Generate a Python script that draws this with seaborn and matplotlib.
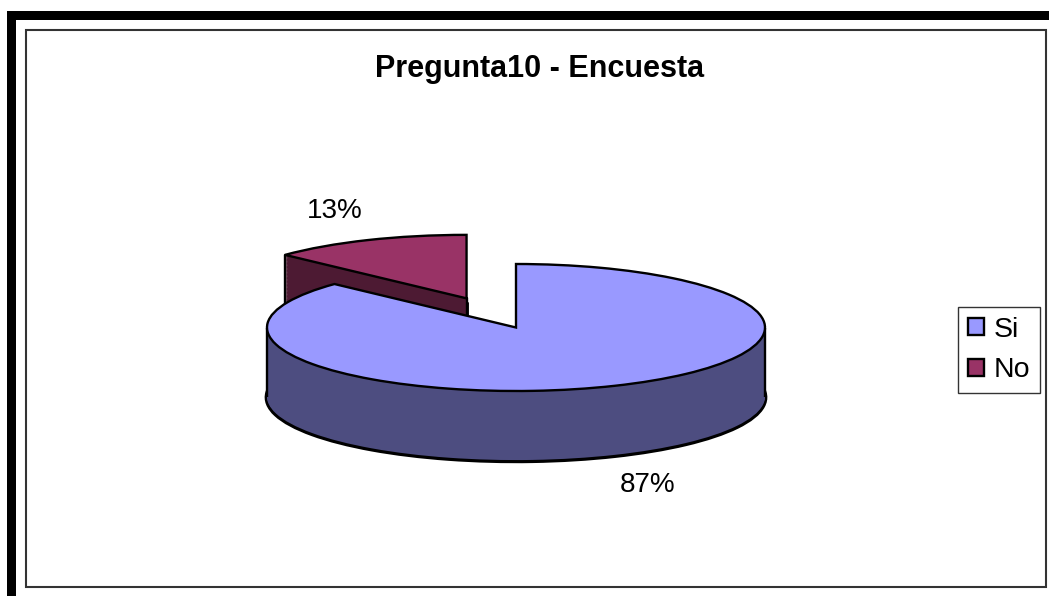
import numpy as np
import matplotlib
matplotlib.use("Agg")
import matplotlib.pyplot as plt
import seaborn as sns
from matplotlib.patches import Rectangle

# ---- data ----
categories = ["Si", "No"]
values = [87, 13]
pct_labels = ["87%", "13%"]
title = "Pregunta10 - Encuesta"
explode = [0.0, 0.5]
top_colors = ["#9999FF", "#993366"]
side_colors = ["#4D4D80", "#4D1A33"]

sns.set_theme(style="white")
plt.rcParams["font.family"] = ["Liberation Sans", "DejaVu Sans"]
plt.rcParams["text.color"] = "black"

W, H = 1049, 596
fig = plt.figure(figsize=(W / 100, H / 100), dpi=100)
fig.patch.set_facecolor("white")
ax = fig.add_axes([0, 0, 1, 1])

depth = 1.1
n_layers = 90
offsets = np.linspace(-depth, 0, n_layers)
zbase = [3.0, 1.0]  # Si in front of No

# extruded sides: stacked pies
for i, off in enumerate(offsets):
    lw = 3.4 if i == 0 else 0.0
    wedges, _ = ax.pie(values, explode=explode, startangle=90, counterclock=False,
                       colors=side_colors, center=(0, off),
                       wedgeprops=dict(linewidth=lw, edgecolor="black"))
    for j, w in enumerate(wedges):
        w.set_zorder(zbase[j] + i * 1e-3)

# top faces
top_wedges, _ = ax.pie(values, explode=explode, startangle=90, counterclock=False,
                       colors=top_colors, center=(0, 0),
                       wedgeprops=dict(linewidth=1.7, edgecolor="black"))
for j, w in enumerate(top_wedges):
    w.set_zorder(zbase[j] + 0.5)

# vertical edges
si = top_wedges[0]
cx, cy = si.center
for sx in (-1, 1):
    ax.plot([cx + sx * si.r] * 2, [cy, cy - depth], color="black", lw=1.7,
            zorder=zbase[0] + 0.4, solid_capstyle="butt")
no = top_wedges[1]
ncx, ncy = no.center
ax.plot([ncx, ncx], [ncy, ncy - depth], color="black", lw=1.7, zorder=zbase[1] + 0.4)
ends = [(ncx + no.r * np.cos(np.radians(t)), ncy + no.r * np.sin(np.radians(t)))
        for t in (no.theta1, no.theta2)]
ex, ey = min(ends, key=lambda p: p[0])
ax.plot([ex, ex], [ey, ey - depth], color="black", lw=1.7, zorder=zbase[1] + 0.4)

# percentage labels
for w, lab in zip(top_wedges, pct_labels):
    mid = np.radians((w.theta1 + w.theta2) / 2)
    wx, wy = w.center
    lx = wx + 1.33 * w.r * np.cos(mid)
    ly = wy + 1.5 * w.r * np.sin(mid)
    if np.sin(mid) < 0:
        ly -= depth
    ax.text(lx, ly, lab, ha="center", va="center", fontsize=20, color="black", zorder=10)

ax.set_xlim(-516 / 249, (W - 516) / 249)
ax.set_ylim(-(H - 327.5) / 63.5, 327.5 / 63.5)
ax.set_aspect("auto")
ax.axis("off")

# title
fig.text(540 / W, 1 - 69 / H, title, ha="center", va="center",
         fontsize=22, fontweight="bold", color="black")

# legend
leg = ax.legend(top_wedges, categories, loc="upper left",
                bbox_to_anchor=(958 / W, 1 - 307 / H), bbox_transform=fig.transFigure,
                borderaxespad=0, frameon=True, fancybox=False, edgecolor="#333333",
                framealpha=1, fontsize=20.5, handlelength=0.55, handleheight=0.55,
                handletextpad=0.35, borderpad=0.35, labelspacing=0.5)
leg.get_frame().set_linewidth(1.0)
for t in leg.get_texts():
    t.set_color("black")
leg.set_zorder(20)

# borders
fig.add_artist(Rectangle((25.5 / W, 1 - 586.5 / H), (1045.5 - 25.5) / W, (586.5 - 29.5) / H,
                         transform=fig.transFigure, fill=False, edgecolor="#333333", lw=1.5))
fig.add_artist(Rectangle((7 / W, 0), 9 / W, (H - 11) / H, transform=fig.transFigure,
                         facecolor="black", edgecolor="none"))
fig.add_artist(Rectangle((7 / W, 1 - 20 / H), (W - 7) / W, 9 / H, transform=fig.transFigure,
                         facecolor="black", edgecolor="none"))

fig.savefig("out.png", dpi=100, facecolor="white")
